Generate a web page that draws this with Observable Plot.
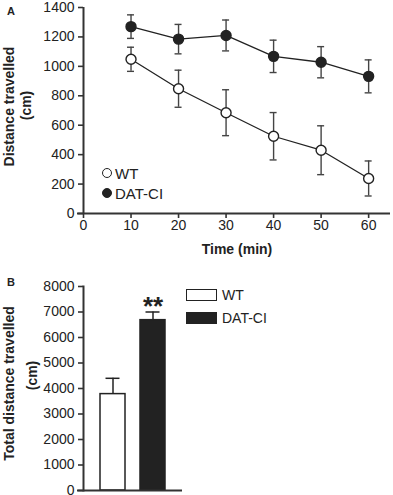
<!DOCTYPE html>
<html><head><meta charset="utf-8">
<script src="https://cdn.jsdelivr.net/npm/d3@7"></script>
<script src="https://cdn.jsdelivr.net/npm/@observablehq/plot@0.6"></script>
<style>
body{margin:0;background:#fff;font-family:"Liberation Sans",Arial,sans-serif;color:#222}
#wrap{position:relative;width:393px;height:495px;overflow:hidden;background:#fff}
.panel{position:absolute;left:0}
.lab{position:absolute;font-weight:bold;font-size:11px;line-height:11px}
.leg{position:absolute;font-size:14px;line-height:14px;white-space:nowrap}
.sw{position:absolute;box-sizing:border-box;border:1.5px solid #222}
</style></head><body>
<div id="wrap"></div>
<script>
// Panel A data
const times = [10, 20, 30, 40, 50, 60];
const wtMean = [1048, 848, 685, 525, 430, 238];
const wtSem = [82, 126, 156, 161, 166, 119];
const datMean = [1270, 1185, 1210, 1068, 1028, 932];
const datSem = [80, 100, 105, 110, 106, 112];
const seriesNames = ["WT", "DAT-CI"];
const xTicksA = [0, 10, 20, 30, 40, 50, 60];
const yTicksA = [0, 200, 400, 600, 800, 1000, 1200, 1400];
// Panel B data
const groups = ["WT", "DAT-CI"];
const totalMean = [3780, 6680];
const totalSem = [620, 320];
const yTicksB = [0, 1000, 2000, 3000, 4000, 5000, 6000, 7000, 8000];

const ink = "#222";
const fmt = d => String(d);
const rowsA = [];
times.forEach((t, i) => {
  rowsA.push({g: seriesNames[0], t, m: wtMean[i], s: wtSem[i]});
  rowsA.push({g: seriesNames[1], t, m: datMean[i], s: datSem[i]});
});
const rowsB = groups.map((g, i) => ({g, m: totalMean[i], s: totalSem[i]}));

const wrap = document.getElementById("wrap");

const plotA = Plot.plot({
  width: 393, height: 262,
  marginTop: 7, marginBottom: 49, marginLeft: 83, marginRight: 3,
  style: {fontFamily: '"Liberation Sans", Arial, sans-serif', fontSize: "14px", color: ink, background: "transparent"},
  x: {domain: [0, 64.6]},
  y: {domain: [0, 1400]},
  marks: [
    Plot.ruleX(rowsA, {x: "t", y1: d => d.m - d.s, y2: d => d.m + d.s, stroke: "#444", strokeWidth: 1.4}),
    Plot.ruleY(rowsA, {y: d => d.m + d.s, x1: "t", x2: "t", insetLeft: -3.5, insetRight: -3.5, stroke: "#444", strokeWidth: 1.4}),
    Plot.ruleY(rowsA, {y: d => d.m - d.s, x1: "t", x2: "t", insetLeft: -3.5, insetRight: -3.5, stroke: "#444", strokeWidth: 1.4}),
    Plot.line(rowsA, {x: "t", y: "m", z: "g", stroke: ink, strokeWidth: 1.3}),
    Plot.dot(rowsA.filter(d => d.g === "WT"), {x: "t", y: "m", r: 5, fill: "white", stroke: ink, strokeWidth: 1.4}),
    Plot.dot(rowsA.filter(d => d.g === "DAT-CI"), {x: "t", y: "m", r: 5, fill: ink, stroke: ink, strokeWidth: 1.4}),
    Plot.axisY({ticks: yTicksA, tickFormat: fmt, tickSize: 5, tickPadding: 4, label: null, fontSize: 14, strokeWidth: 1.6, stroke: "#333"}),
    Plot.axisX({ticks: xTicksA, tickFormat: fmt, tickSize: 5, tickPadding: 2, label: null, fontSize: 14, strokeWidth: 1.6, stroke: "#333"}),
    Plot.ruleX([0], {stroke: "#333", strokeWidth: 2}),
    Plot.ruleY([0], {stroke: "#333", strokeWidth: 2, insetLeft: -6}),
    Plot.text(["Time (min)"], {frameAnchor: "bottom", dy: 36, lineAnchor: "middle", textAnchor: "middle", fontWeight: "bold", fontSize: 14, fill: ink}),
    Plot.text(["Distance travelled"], {frameAnchor: "left", dx: -74, dy: -4, rotate: -90, textAnchor: "middle", lineAnchor: "middle", fontWeight: "bold", fontSize: 14, fill: ink}),
    Plot.text(["(cm)"], {frameAnchor: "left", dx: -57, dy: -5, rotate: -90, textAnchor: "middle", lineAnchor: "middle", fontWeight: "bold", fontSize: 14, fill: ink})
  ]
});
plotA.classList.add("panel");
plotA.style.top = "0px";
wrap.appendChild(plotA);

const plotB = Plot.plot({
  width: 393, height: 230,
  marginTop: 21, marginBottom: 5, marginLeft: 83, marginRight: 211,
  style: {fontFamily: '"Liberation Sans", Arial, sans-serif', fontSize: "14px", color: ink, background: "transparent"},
  x: {domain: groups, paddingInner: 0.37, paddingOuter: 0.42, axis: null},
  y: {domain: [0, 8000]},
  marks: [
    Plot.ruleX(rowsB, {x: "g", y1: "m", y2: d => d.m + d.s, stroke: ink, strokeWidth: 1.5}),
    Plot.tickY(rowsB, {x: "g", y: d => d.m + d.s, insetLeft: 5.5, insetRight: 5.5, stroke: ink, strokeWidth: 1.5}),
    Plot.barY(rowsB, {x: "g", y: "m", fill: d => d.g === "WT" ? "white" : ink, stroke: ink, strokeWidth: 1.5}),
    Plot.text(rowsB.filter(d => d.g === "DAT-CI"), {x: "g", y: d => d.m + d.s, text: () => "**", lineAnchor: "bottom", dy: 3, fontSize: 26, fontWeight: "bold", fill: ink}),
    Plot.axisY({ticks: yTicksB, tickFormat: fmt, tickSize: 5, tickPadding: 4, label: null, fontSize: 14, strokeWidth: 1.6, stroke: "#333"}),
    Plot.frame({anchor: "left", stroke: "#333", strokeWidth: 2}),
    Plot.ruleY([0], {stroke: "#333", strokeWidth: 2, insetLeft: -6}),
    Plot.text(["Total distance travelled"], {frameAnchor: "left", dx: -74, dy: -5, rotate: -90, textAnchor: "middle", lineAnchor: "middle", fontWeight: "bold", fontSize: 14, fill: ink}),
    Plot.text(["(cm)"], {frameAnchor: "left", dx: -51, dy: -13, rotate: -90, textAnchor: "middle", lineAnchor: "middle", fontWeight: "bold", fontSize: 14, fill: ink})
  ]
});
plotB.classList.add("panel");
plotB.style.top = "265px";
wrap.appendChild(plotB);

function el(cls, css, text) {
  const d = document.createElement("div");
  d.className = cls;
  Object.assign(d.style, css);
  if (text) d.textContent = text;
  wrap.appendChild(d);
  return d;
}
// panel letters
el("lab", {left: "7px", top: "6px"}, "A");
el("lab", {left: "7px", top: "277px"}, "B");
// legend A
el("sw", {left: "102px", top: "168px", width: "10px", height: "10px", borderRadius: "50%", background: "white", borderWidth: "1.4px"});
el("sw", {left: "102px", top: "188px", width: "10px", height: "10px", borderRadius: "50%", background: ink, borderWidth: "1.4px"});
el("leg", {left: "115px", top: "166px", fontSize: "15px", lineHeight: "15px"}, seriesNames[0]);
el("leg", {left: "115px", top: "186px", fontSize: "15px", lineHeight: "15px"}, seriesNames[1]);
// legend B
el("sw", {left: "186px", top: "289px", width: "31px", height: "12px", background: "white"});
el("sw", {left: "186px", top: "312px", width: "31px", height: "12px", background: ink});
el("leg", {left: "222px", top: "288px"}, groups[0]);
el("leg", {left: "222px", top: "311px"}, groups[1]);
</script>
</body></html>
